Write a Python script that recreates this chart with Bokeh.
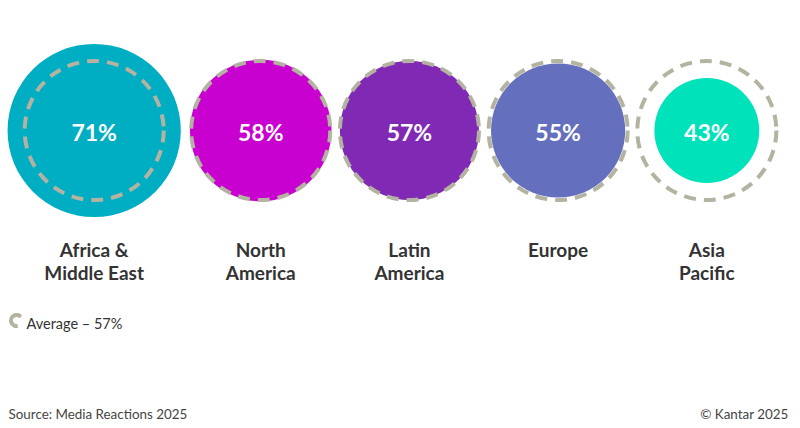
from bokeh.plotting import figure
from bokeh.models import FactorRange, Range1d, ColumnDataSource, Label
from bokeh.core.properties import value
from bokeh.embed import file_html
from bokeh.resources import INLINE

# ---- data ----
regions = ["Africa & Middle East", "North America", "Latin America", "Europe", "Asia Pacific"]
region_labels = ["Africa &\nMiddle East", "North\nAmerica", "Latin\nAmerica", "Europe", "Asia\nPacific"]
values = [71, 58, 57, 55, 43]
average = 57
colors = ["#00AEC3", "#C800D0", "#8029B4", "#6470BE", "#00E2B9"]
avg_color = "#B4B2A0"
source_text = "Source: Media Reactions 2025"
credit_text = "© Kantar 2025"

# ---- layout ----
W, H = 800, 428
FONT = value("Lato")
FONT_NAME = "Lato"
px_per_point = 1.22  # radius in screen px per percentage point
GROUP_GAP = 0.12
PAD = 0.13

factors = [("g1", regions[0])] + [("g2", r) for r in regions[1:]]
x_range = FactorRange(*factors, factor_padding=0, group_padding=GROUP_GAP,
                      range_padding=PAD, range_padding_units="absolute")
span = len(factors) + GROUP_GAP + 2 * PAD
px_unit = W / span


def px_to_synthetic(px):
    return -PAD + px / px_unit


p = figure(width=W, height=H, x_range=x_range, y_range=Range1d(0, H),
           output_backend="svg", toolbar_location=None,
           x_axis_location=None, y_axis_location=None,
           min_border=0, outline_line_color=None, background_fill_color="white",
           border_fill_color="white")
p.grid.visible = False

cy = H - 130
src = ColumnDataSource(dict(
    x=factors,
    r=[v * px_per_point for v in values],
    color=colors,
    pct=[f"{v}%" for v in values],
    label=region_labels,
))

p.circle(x="x", y=cy, radius="r", radius_units="screen",
         fill_color="color", line_color=None, source=src)
p.circle(x="x", y=cy, radius=average * px_per_point, radius_units="screen",
         fill_color=None, line_color=avg_color, line_width=4,
         line_dash="12 8", source=src)

p.text(x="x", y=cy, text="pct", text_align="center", text_baseline="middle",
       text_color="white", text_font=FONT, text_font_style="bold",
       text_font_size="23px", y_offset=1, source=src)

p.text(x="x", y=H - 237, text="label", text_align="center", text_baseline="top",
       text_color="#333333", text_font=FONT, text_font_style="bold",
       text_font_size="19px", text_line_height=1.0, source=src)

# legend icon + text
p.annular_wedge(x=[px_to_synthetic(16)], y=[H - 320], inner_radius=3.5, outer_radius=7.5,
                inner_radius_units="screen", outer_radius_units="screen",
                start_angle=0.7, end_angle=-1.35, direction="anticlock",
                fill_color=avg_color, line_color=None)
p.add_layout(Label(x=26, y=H - 323, x_units="screen", y_units="screen",
                   text=f"Average – {average}%", text_font=FONT_NAME,
                   text_font_size="14.5px", text_color="#333333",
                   text_baseline="middle"))

# footer
p.add_layout(Label(x=8, y=H - 413, x_units="screen", y_units="screen",
                   text=source_text, text_font=FONT_NAME, text_font_size="13.4px",
                   text_color="#444444", text_baseline="middle"))
p.add_layout(Label(x=788, y=H - 413, x_units="screen", y_units="screen",
                   text=credit_text, text_font=FONT_NAME, text_font_size="13.4px",
                   text_color="#444444", text_baseline="middle",
                   text_align="right"))

open("out.html", "w").write(file_html(p, INLINE))
